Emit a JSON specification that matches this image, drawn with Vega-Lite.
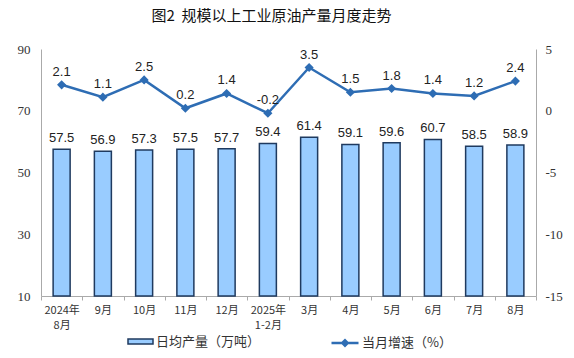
{
  "$schema": "https://vega.github.io/schema/vega-lite/v6.json",
  "width": 495,
  "height": 247,
  "autosize": {"type": "none"},
  "padding": {"left": 41, "top": 49, "right": 38, "bottom": 62},
  "background": "white",
  "config": {"view": {"stroke": null}},
  "title": {
    "text": "图2\u00a0\u00a0规模以上工业原油产量月度走势",
    "font": "Noto Sans CJK SC",
    "fontSize": 15,
    "fontWeight": "normal",
    "color": "#111",
    "anchor": "middle",
    "dx": -17,
    "offset": 19
  },
  "data": {
    "values": [
      {"m": "2024年|8月", "v": 57.5, "g": 2.1},
      {"m": "9月", "v": 56.9, "g": 1.1},
      {"m": "10月", "v": 57.3, "g": 2.5},
      {"m": "11月", "v": 57.5, "g": 0.2},
      {"m": "12月", "v": 57.7, "g": 1.4},
      {"m": "2025年|1-2月", "v": 59.4, "g": -0.2},
      {"m": "3月", "v": 61.4, "g": 3.5},
      {"m": "4月", "v": 59.1, "g": 1.5},
      {"m": "5月", "v": 59.6, "g": 1.8},
      {"m": "6月", "v": 60.7, "g": 1.4},
      {"m": "7月", "v": 58.5, "g": 1.2},
      {"m": "8月", "v": 58.9, "g": 2.4}
    ]
  },
  "encoding": {
    "x": {
      "field": "m",
      "type": "ordinal",
      "sort": null,
      "scale": {"paddingInner": 0, "paddingOuter": 0},
      "axis": {
        "title": null,
        "labelAngle": 0,
        "labelExpr": "split(datum.label, '|')",
        "labelFont": "Noto Sans CJK SC",
        "labelFontSize": 11,
        "labelColor": "#333",
        "labelLineHeight": 15,
        "labelPadding": 4,
        "domainColor": "#aaa",
        "tickColor": "#aaa",
        "tickBand": "extent",
        "tickSize": 4
      }
    }
  },
  "layer": [
    {
      "encoding": {
        "y": {
          "field": "v",
          "type": "quantitative",
          "scale": {"domain": [10, 90], "nice": false, "zero": false},
          "axis": {
            "title": null,
            "values": [10, 30, 50, 70, 90],
            "grid": false,
            "ticks": false,
            "labelFont": "Liberation Serif",
            "labelFontSize": 13,
            "labelColor": "#333",
            "labelPadding": 11,
            "domainColor": "#aaa"
          }
        }
      },
      "layer": [
        {
          "mark": {"type": "bar", "size": 17, "stroke": "#1F3A5F", "strokeWidth": 1.5},
          "encoding": {
            "y2": {"datum": 10},
            "fill": {
              "datum": "日均产量（万吨）",
              "type": "nominal",
              "scale": {"range": ["#99CCFF"]},
              "legend": {
                "title": null,
                "orient": "none",
                "legendX": 86,
                "legendY": 279,
                "symbolType": "M-1,-0.2H1V0.2H-1Z",
                "symbolSize": 625,
                "symbolStrokeColor": "#1F3A5F",
                "symbolStrokeWidth": 1.5,
                "labelFont": "Noto Sans CJK SC",
                "labelFontSize": 13,
                "labelColor": "#333",
                "labelOffset": 2
              }
            }
          }
        },
        {
          "mark": {"type": "text", "baseline": "bottom", "dy": -4, "font": "Liberation Sans", "fontSize": 13, "color": "#222"},
          "encoding": {"text": {"field": "v", "type": "nominal"}}
        }
      ]
    },
    {
      "encoding": {
        "y": {
          "field": "g",
          "type": "quantitative",
          "scale": {"domain": [-15, 5], "nice": false, "zero": false},
          "axis": {
            "orient": "right",
            "title": null,
            "values": [-15, -10, -5, 0, 5],
            "labelExpr": "replace(datum.label, '−', '-')",
            "grid": false,
            "ticks": false,
            "labelFont": "Liberation Serif",
            "labelFontSize": 13,
            "labelColor": "#333",
            "labelPadding": 9,
            "domainColor": "#aaa"
          }
        }
      },
      "layer": [
        {
          "mark": {"type": "line", "strokeWidth": 2.5, "point": {"shape": "diamond", "size": 40, "filled": true, "color": "#2E6DB4"}},
          "encoding": {
            "stroke": {
              "datum": "当月增速（%）",
              "type": "nominal",
              "scale": {"range": ["#2E6DB4"]},
              "legend": {
                "title": null,
                "orient": "none",
                "legendX": 289,
                "legendY": 279,
                "symbolType": "M-1,0H1M-0.2,0L0,-0.2L0.2,0L0,0.2Z",
                "symbolSize": 729,
                "symbolStrokeWidth": 2.5,
                "symbolFillColor": "#2E6DB4",
                "labelFont": "Noto Sans CJK SC",
                "labelFontSize": 13,
                "labelColor": "#333",
                "labelOffset": 2
              }
            }
          }
        },
        {
          "mark": {"type": "text", "baseline": "bottom", "dy": -6, "font": "Liberation Sans", "fontSize": 13, "color": "#222"},
          "encoding": {"text": {"field": "g", "type": "nominal"}}
        }
      ]
    }
  ],
  "resolve": {"scale": {"y": "independent", "fill": "independent", "stroke": "independent"}}
}
